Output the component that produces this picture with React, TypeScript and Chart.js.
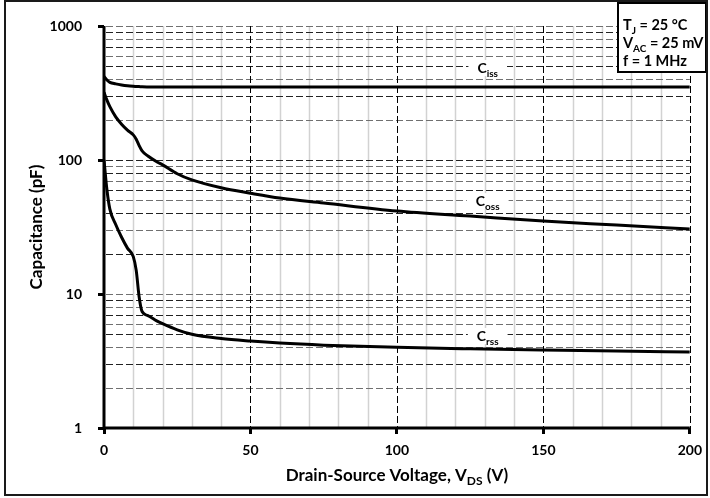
import React, { useEffect, useRef } from 'react';
import { Chart, registerables } from 'chart.js';

Chart.register(...registerables);

// ---- data ----
const vds = [0, 1, 2, 4, 6, 8, 10, 11, 12, 13, 15, 18, 20, 25, 30, 40, 50, 60, 75, 100, 125, 150, 175, 200];
const ciss = [420, 395, 380, 370, 363, 358, 355, 354, 353, 352, 351, 350, 350, 350, 350, 350, 350, 350, 350, 350, 350, 350, 350, 350];
const coss = [320, 280, 250, 210, 185, 167, 154, 143, 128, 117, 107, 97, 92, 79, 71, 62, 56.5, 52, 47.8, 41.6, 38.2, 35, 32.7, 30.5];
const crss = [100, 60, 43, 33, 26.5, 22, 19, 15, 9.5, 7.4, 6.9, 6.3, 6.0, 5.4, 5.0, 4.65, 4.45, 4.3, 4.15, 4.0, 3.9, 3.82, 3.75, 3.69];

const seriesSub = ['iss', 'oss', 'rss'];
const labelV = [131, 131, 131];
const labelC = [478, 48.5, 4.78];

const xMajorStep = 50;
const yLabelValues = [1, 10, 100, 1000];

const conditionLines: [string, string, string][] = [
  ['T', 'J', ' = 25 °C'],
  ['V', 'AC', ' = 25 mV'],
  ['f = 1 MHz', '', ''],
];

const xTitle: [string, boolean][] = [['Drain-Source Voltage, V', false], ['DS', true], [' (V)', false]];
const yTitle = 'Capacitance (pF)';

const FONT = 'Lato, "Open Sans", sans-serif';

const isDecade = (v: number) => {
  const l = Math.log10(v);
  return Math.abs(l - Math.round(l)) < 1e-9;
};

function drawRich(ctx: CanvasRenderingContext2D, parts: [string, boolean][], x: number, y: number, size: number, align: 'left' | 'center') {
  const main = `bold ${size}px ${FONT}`;
  const sub = `bold ${Math.round(size * 0.68)}px ${FONT}`;
  const widths = parts.map(([t, s]) => {
    ctx.font = s ? sub : main;
    return ctx.measureText(t).width;
  });
  const total = widths.reduce((a, b) => a + b, 0);
  let cx = align === 'center' ? x - total / 2 : x;
  ctx.textAlign = 'left';
  ctx.textBaseline = 'alphabetic';
  parts.forEach(([t, s], i) => {
    ctx.font = s ? sub : main;
    ctx.fillText(t, cx, s ? y + size * 0.26 : y);
    cx += widths[i];
  });
  return total;
}

const decorPlugin = {
  id: 'decor',
  beforeDatasetsDraw(chart: any) {
    const { ctx, chartArea } = chart;
    const { left, right, top, bottom } = chartArea;
    const xs = chart.scales.x;
    const ys = chart.scales.y;
    ctx.save();
    // minor vertical grid
    xs.ticks.forEach((t: any) => {
      const v = t.value;
      if (v === 0 || v % xMajorStep === 0) return;
      const px = Math.round(xs.getPixelForValue(v)) + 0.5;
      ctx.strokeStyle = '#d2d2d2';
      ctx.lineWidth = 1.5;
      ctx.setLineDash([]);
      ctx.beginPath();
      ctx.moveTo(px, top);
      ctx.lineTo(px, bottom);
      ctx.stroke();
    });
    // horizontal dashed grid
    ys.ticks.forEach((t: any, i: number) => {
      const v = t.value;
      if (v <= 1) return;
      const py = Math.round(ys.getPixelForValue(v)) + 0.5;
      ctx.strokeStyle = i % 2 === 0 ? '#222' : '#707070';
      ctx.lineWidth = 1;
      ctx.setLineDash([7, 3]);
      ctx.beginPath();
      ctx.moveTo(left + 2, py);
      ctx.lineTo(right, py);
      ctx.stroke();
    });
    // major vertical dashed grid
    xs.ticks.forEach((t: any) => {
      const v = t.value;
      if (v === 0 || v % xMajorStep !== 0) return;
      const px = Math.round(xs.getPixelForValue(v)) + 0.5;
      ctx.strokeStyle = '#000';
      ctx.lineWidth = 1;
      ctx.setLineDash([7, 3]);
      ctx.beginPath();
      ctx.moveTo(px, top);
      ctx.lineTo(px, bottom);
      ctx.stroke();
    });
    ctx.restore();
  },
  afterDatasetsDraw(chart: any) {
    const { ctx, chartArea } = chart;
    const xs = chart.scales.x;
    const ys = chart.scales.y;
    ctx.save();
    ctx.fillStyle = '#000';
    // curve labels
    seriesSub.forEach((s, i) => {
      const px = xs.getPixelForValue(labelV[i]);
      const py = ys.getPixelForValue(labelC[i]);
      ctx.font = `bold 14px ${FONT}`;
      const w1 = ctx.measureText('C').width;
      ctx.font = `bold 10px ${FONT}`;
      const w2 = ctx.measureText(s).width;
      const w = w1 + w2;
      ctx.fillStyle = '#fff';
      ctx.fillRect(px - w / 2 - 9, py - 9, w + 18, 16);
      ctx.fillStyle = '#000';
      drawRich(ctx, [['C', false], [s, true]], px, py + 4, 14, 'center');
    });
    // axes lines
    ctx.strokeStyle = '#000';
    ctx.lineWidth = 3;
    ctx.setLineDash([]);
    ctx.beginPath();
    ctx.moveTo(chartArea.left, chartArea.top);
    ctx.lineTo(chartArea.left, chartArea.bottom);
    ctx.lineTo(chartArea.right, chartArea.bottom);
    ctx.stroke();
    // axis titles
    drawRich(ctx, xTitle, (chartArea.left + chartArea.right) / 2, 481, 17, 'center');
    ctx.save();
    ctx.translate(37, (chartArea.top + chartArea.bottom) / 2);
    ctx.rotate(-Math.PI / 2);
    ctx.font = `bold 17px ${FONT}`;
    ctx.textAlign = 'center';
    ctx.textBaseline = 'middle';
    ctx.fillText(yTitle, 0, 0);
    ctx.restore();
    // conditions box
    ctx.fillStyle = '#fff';
    ctx.fillRect(618, 3, 88, 69);
    ctx.strokeStyle = '#000';
    ctx.lineWidth = 2;
    ctx.strokeRect(618, 3, 88, 69);
    ctx.fillStyle = '#000';
    conditionLines.forEach((ln, i) => {
      const parts: [string, boolean][] = [[ln[0], false]];
      if (ln[1]) parts.push([ln[1], true]);
      if (ln[2]) parts.push([ln[2], false]);
      drawRich(ctx, parts, 623, 30 + i * 18, 14.5, 'left');
    });
    // outer frame
    ctx.strokeStyle = '#1a1a1a';
    ctx.lineWidth = 2;
    ctx.strokeRect(5, 1, 702, 494);
    ctx.restore();
  },
};

export default function App() {
  const ref = useRef<HTMLCanvasElement>(null);
  useEffect(() => {
    if (!ref.current) return;
    const mk = (arr: number[]) => vds.map((v, i) => ({ x: v, y: arr[i] }));
    const ds = (label: string, arr: number[]) => ({
      label,
      data: mk(arr),
      borderColor: '#000',
      borderWidth: 3,
      pointRadius: 0,
      cubicInterpolationMode: 'monotone' as const,
      fill: false,
    });
    const tickFont = { family: FONT, weight: 'bold' as const, size: 14 };
    const chart = new Chart(ref.current, {
      type: 'line',
      data: { datasets: [ds('Ciss', ciss), ds('Coss', coss), ds('Crss', crss)] },
      options: {
        animation: false,
        responsive: false,
        devicePixelRatio: 1,
        layout: { padding: { left: 0, top: 26, right: 20, bottom: 0 } },
        plugins: { legend: { display: false }, tooltip: { enabled: false } },
        scales: {
          x: {
            type: 'linear',
            min: 0,
            max: 200,
            ticks: {
              stepSize: 10,
              autoSkip: false,
              maxRotation: 0,
              padding: 8,
              color: '#000',
              font: tickFont,
              callback: (v: any) => (Number(v) % xMajorStep === 0 ? String(v) : ''),
            },
            grid: {
              display: true,
              drawOnChartArea: false,
              tickLength: 6,
              tickWidth: 3,
              tickColor: (c: any) => (c.tick && c.tick.value % xMajorStep === 0 ? '#000' : 'rgba(0,0,0,0)'),
            },
            border: { display: false },
            afterFit: (s: any) => {
              s.height = 70;
            },
          },
          y: {
            type: 'logarithmic',
            min: 1,
            max: 1000,
            afterBuildTicks: (s: any) => {
              const t: any[] = [];
              for (let d = 1; d < 1000; d *= 10) {
                for (let m = 1; m < 10; m++) t.push({ value: d * m });
              }
              t.push({ value: 1000 });
              s.ticks = t;
            },
            ticks: {
              autoSkip: false,
              padding: 16,
              color: '#000',
              font: tickFont,
              callback: (v: any) => (yLabelValues.includes(Number(v)) && isDecade(Number(v)) ? String(v) : ''),
            },
            grid: {
              display: true,
              drawOnChartArea: false,
              tickLength: 6,
              tickWidth: 3,
              tickColor: (c: any) => (c.tick && isDecade(c.tick.value) ? '#000' : 'rgba(0,0,0,0)'),
            },
            border: { display: false },
            afterFit: (s: any) => {
              s.width = 104;
            },
          },
        },
      },
      plugins: [decorPlugin],
    });
    return () => chart.destroy();
  }, []);
  return (
    <div style={{ position: 'fixed', left: 0, top: 0, width: 710, height: 498, background: '#fff' }}>
      <canvas ref={ref} width={710} height={498} style={{ display: 'block', width: 710, height: 498 }} />
    </div>
  );
}
